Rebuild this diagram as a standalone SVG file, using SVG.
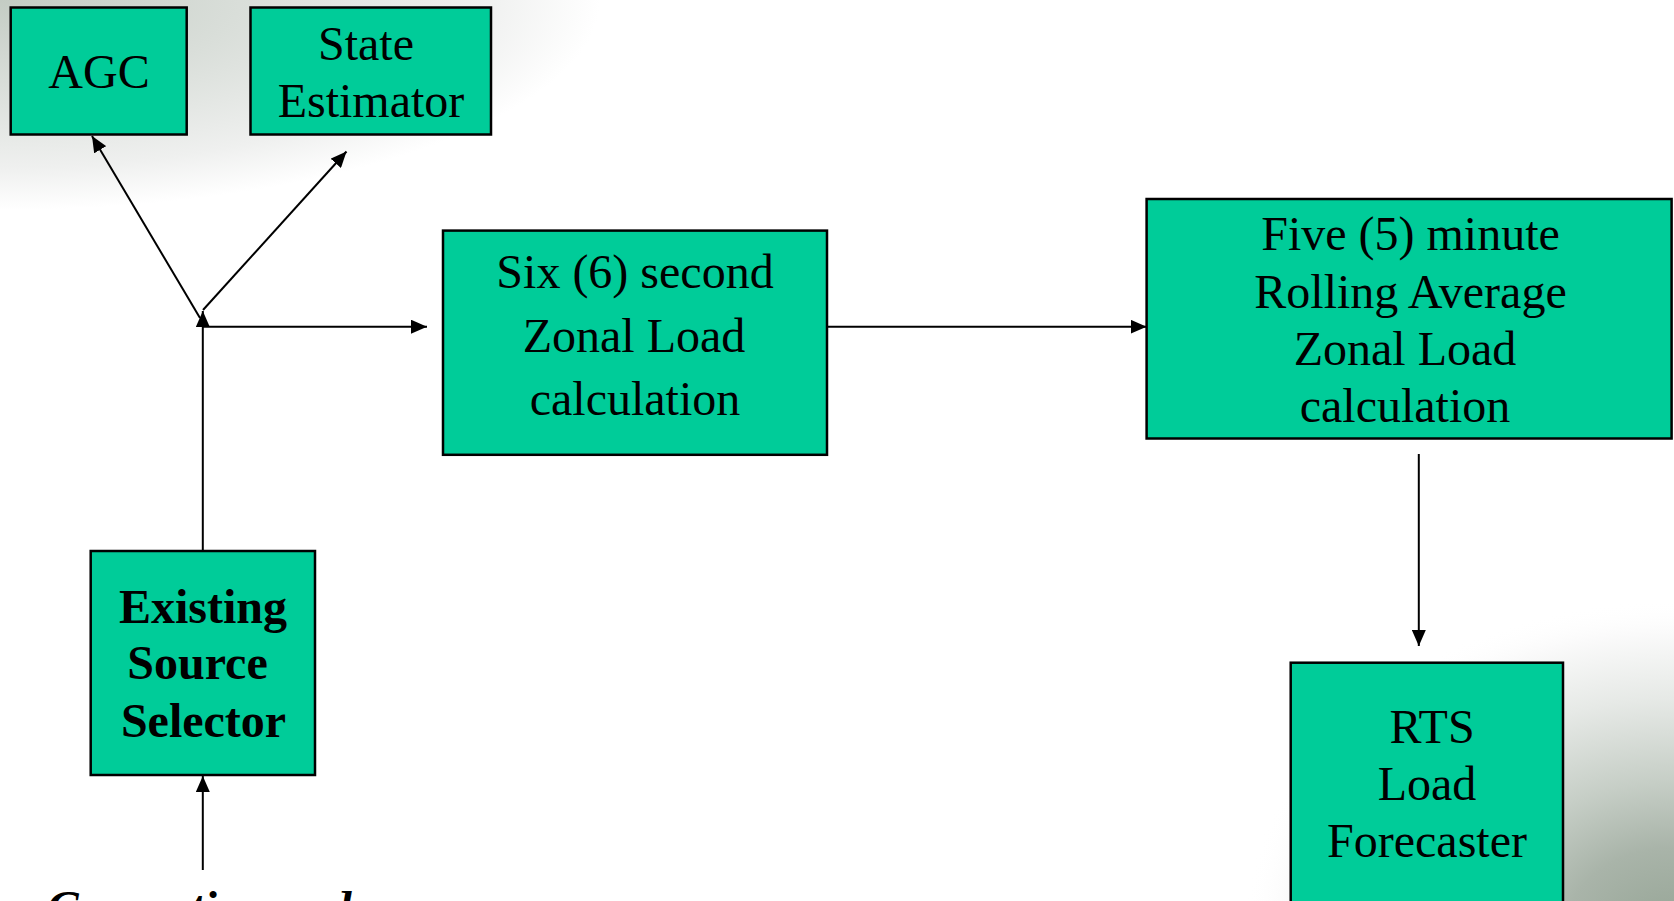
<svg xmlns="http://www.w3.org/2000/svg" width="1674" height="901" viewBox="0 0 1674 901">
<defs>
<radialGradient id="bgTL" gradientUnits="userSpaceOnUse" cx="0" cy="0" r="1" gradientTransform="translate(0,0) scale(600,210)">
<stop offset="0" stop-color="#c4ccc4"/>
<stop offset="0.4" stop-color="#d9ded9"/>
<stop offset="0.8" stop-color="#eff0ef"/>
<stop offset="1" stop-color="#ffffff"/>
</radialGradient>
<radialGradient id="bgBR" gradientUnits="userSpaceOnUse" cx="0" cy="0" r="1" gradientTransform="translate(1674,930) scale(430,330)">
<stop offset="0" stop-color="#96a596"/>
<stop offset="0.25" stop-color="#a9b4a9"/>
<stop offset="0.45" stop-color="#c6cec6"/>
<stop offset="0.7" stop-color="#e6e9e6"/>
<stop offset="0.9" stop-color="#fafafa"/>
<stop offset="1" stop-color="#ffffff" stop-opacity="0"/>
</radialGradient>
<marker id="ah" viewBox="0 0 16 14" refX="16" refY="7" markerWidth="16" markerHeight="14" markerUnits="userSpaceOnUse" orient="auto">
<path d="M0,0 L16,7 L0,14 Z" fill="#000"/>
</marker>
</defs>
<style>
.box{fill:#00cc99;stroke:#000;stroke-width:2.5}
.t{font-family:"Liberation Serif","Times New Roman",serif;font-size:48px;fill:#000;text-anchor:middle}
.b{font-weight:bold}
.c{fill:none;stroke:#000;stroke-width:2}
</style>
<rect x="0" y="0" width="1674" height="901" fill="#ffffff"/>
<rect x="0" y="0" width="620" height="230" fill="url(#bgTL)"/>
<rect x="1100" y="560" width="574" height="341" fill="url(#bgBR)"/>

<g id="connectors">
<line class="c" x1="202.8" y1="551" x2="202.8" y2="311" marker-end="url(#ah)"/>
<line class="c" x1="200" y1="318" x2="92" y2="136" marker-end="url(#ah)"/>
<line class="c" x1="203" y1="310" x2="346.5" y2="151.5" marker-end="url(#ah)"/>
<line class="c" x1="202.8" y1="326.7" x2="427" y2="326.7" marker-end="url(#ah)"/>
<line class="c" x1="827" y1="326.7" x2="1146.6" y2="326.7" marker-end="url(#ah)"/>
<line class="c" x1="1418.8" y1="454" x2="1418.8" y2="646" marker-end="url(#ah)"/>
<line class="c" x1="202.8" y1="870" x2="202.8" y2="776" marker-end="url(#ah)"/>
</g>

<g id="agc">
<rect class="box" x="10.7" y="7.5" width="176" height="127"/>
<text class="t" x="99" y="88">AGC</text>
</g>
<g id="state-estimator">
<rect class="box" x="250.5" y="7.5" width="240.5" height="127"/>
<text class="t" x="366" y="60">State</text>
<text class="t" x="371" y="116.7">Estimator</text>
</g>
<g id="six-second">
<rect class="box" x="443" y="230.6" width="384" height="224.2"/>
<text class="t" x="635" y="288.3">Six (6) second</text>
<text class="t" x="634" y="351.7">Zonal Load</text>
<text class="t" x="635" y="415">calculation</text>
</g>
<g id="five-minute">
<rect class="box" x="1146.6" y="199" width="525" height="239.5"/>
<text class="t" x="1410.5" y="250">Five (5) minute</text>
<text class="t" x="1410.5" y="307.7">Rolling Average</text>
<text class="t" x="1405" y="365">Zonal Load</text>
<text class="t" x="1405" y="421.7">calculation</text>
</g>
<g id="source-selector">
<rect class="box" x="90.7" y="551" width="224.3" height="224"/>
<text class="t b" x="203" y="622.7">Existing</text>
<text class="t b" x="197.5" y="679.3">Source</text>
<text class="t b" x="203.5" y="737.3">Selector</text>
</g>
<g id="rts">
<rect class="box" x="1290.7" y="662.7" width="272.3" height="260"/>
<text class="t" x="1432" y="742.7">RTS</text>
<text class="t" x="1427" y="800">Load</text>
<text class="t" x="1427" y="857.3">Forecaster</text>
</g>
<g id="generation-label">
<text x="47" y="923" font-family="'Liberation Serif','Times New Roman',serif" font-size="47" font-weight="bold" font-style="italic" fill="#000">Generation and</text>
</g>
</svg>
